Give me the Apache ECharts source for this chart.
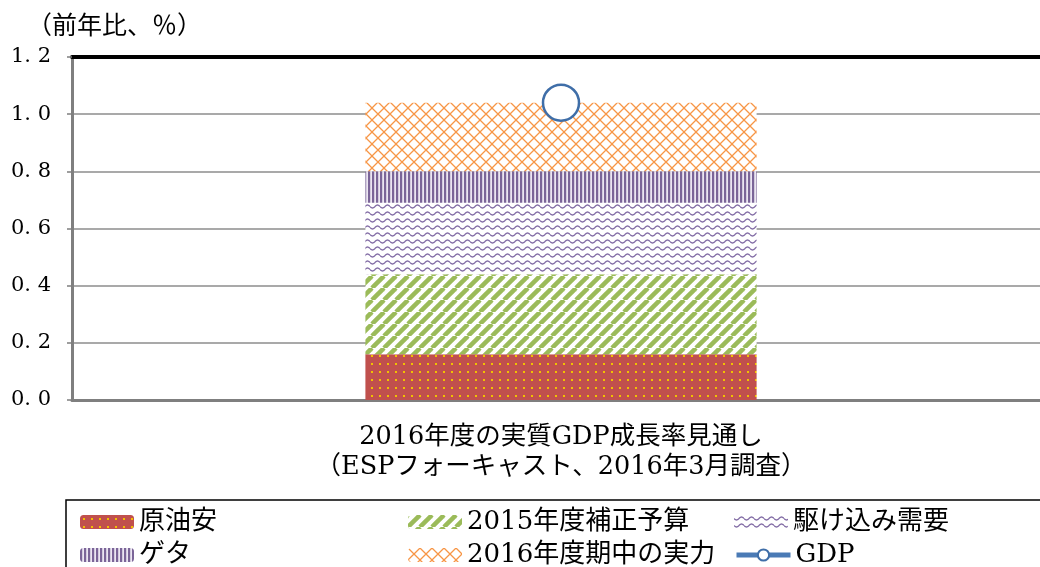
<!DOCTYPE html>
<html><head><meta charset="utf-8">
<script src="https://cdn.jsdelivr.net/npm/echarts@6/dist/echarts.min.js"></script>
<style>html,body{margin:0;padding:0;background:#fff}#c{width:1040px;height:567px}</style>
</head><body><div id="c"></div>
<script>
const categories = ['2016年度の実質GDP成長率見通し\n（ESPフォーキャスト、2016年3月調査）'];
const seriesNames = ['原油安', '2015年度補正予算', '駆け込み需要', 'ゲタ', '2016年度期中の実力', 'GDP'];
const oilValues = [0.16];
const budgetValues = [0.28];
const rushValues = [0.25];
const getaValues = [0.11];
const underlyingValues = [0.24];
const gdpValues = [1.04];
const yMin = 0, yMax = 1.2, yStep = 0.2;

const FONT = "'DejaVu Serif', 'Noto Sans CJK JP', serif";

function tile(w, h, draw) {
  const c = document.createElement('canvas');
  c.width = w; c.height = h;
  draw(c.getContext('2d'), w, h);
  return { image: c, repeat: 'repeat' };
}
const pDots = tile(8, 8, (g, w, h) => {
  g.fillStyle = '#C0504D'; g.fillRect(0, 0, w, h);
  g.fillStyle = '#F2C200'; g.fillRect(3, 3, 2, 2);
});
const pStripes = tile(12, 12, (g, w, h) => {
  g.fillStyle = '#fff'; g.fillRect(0, 0, w, h);
  g.strokeStyle = '#9BBB59'; g.lineWidth = 4.5;
  for (const o of [-12, 0, 12]) { g.beginPath(); g.moveTo(o, 12); g.lineTo(o + 12, 0); g.stroke(); }
});
const pWaves = tile(10, 7, (g, w, h) => {
  g.fillStyle = '#fff'; g.fillRect(0, 0, w, h);
  g.strokeStyle = 'rgba(110,85,150,0.85)'; g.lineWidth = 1.3;
  g.beginPath();
  for (let x = 0; x <= 10; x += 0.5) { const y = 3.5 + 1.5 * Math.sin(2 * Math.PI * x / 10); x === 0 ? g.moveTo(x, y) : g.lineTo(x, y); }
  g.stroke();
});
const pVert = tile(4, 4, (g, w, h) => {
  g.fillStyle = '#ECE6F2'; g.fillRect(0, 0, w, h);
  g.fillStyle = '#7B6598'; g.fillRect(0, 0, 2.2, h);
});
const pCross = tile(12, 12, (g, w, h) => {
  g.fillStyle = '#fff'; g.fillRect(0, 0, w, h);
  g.strokeStyle = '#F79646'; g.lineWidth = 1.3;
  g.beginPath(); g.moveTo(0, 0); g.lineTo(12, 12); g.moveTo(0, 12); g.lineTo(12, 0); g.stroke();
});

const chart = echarts.init(document.getElementById('c'), null, { renderer: 'canvas' });
const legendBase = { itemWidth: 54, itemHeight: 14, itemGap: 6, textStyle: { fontFamily: FONT, fontSize: 26, color: '#000' }, selectedMode: false, padding: 0 };
const barSeries = (name, data, pat) => ({
  name, type: 'bar', stack: 's', data, barWidth: '40%',
  itemStyle: { color: pat }, emphasis: { disabled: true }
});
chart.setOption({
  animation: false,
  title: { text: '（前年比、％）', left: 22, top: 10, textStyle: { fontFamily: FONT, fontSize: 25, fontWeight: 'normal', color: '#000' } },
  grid: { left: 72, top: 57, width: 978, height: 343, containLabel: false, outerBoundsMode: 'none' },
  xAxis: [{
    type: 'category', data: categories,
    axisLine: { lineStyle: { color: '#7F7F7F', width: 3 } },
    axisTick: { show: false },
    axisLabel: { fontFamily: FONT, fontSize: 25.5, color: '#000', lineHeight: 30, margin: 22 }
  }, {
    type: 'category', data: categories, position: 'top',
    axisLine: { lineStyle: { color: '#000', width: 4 } },
    axisTick: { show: false }, axisLabel: { show: false }
  }],
  yAxis: {
    type: 'value', min: yMin, max: yMax, interval: yStep,
    axisLine: { show: true, lineStyle: { color: '#7F7F7F', width: 3 } },
    axisTick: { show: true, length: 5, lineStyle: { color: '#7F7F7F', width: 1.5 } },
    splitLine: { lineStyle: { color: '#8C8C8C', width: 1.5 } },
    axisLabel: { fontFamily: FONT, fontSize: 21, color: '#000', margin: 21,
      formatter: v => v.toFixed(1).replace('.', '. ') }
  },
  legend: [
    Object.assign({}, legendBase, { left: 80, top: 509, data: [seriesNames[0]] }),
    Object.assign({}, legendBase, { left: 408, top: 509, data: [seriesNames[1]] }),
    Object.assign({}, legendBase, { left: 734, top: 509, data: [seriesNames[2]] }),
    Object.assign({}, legendBase, { left: 80, top: 542, data: [seriesNames[3]] }),
    Object.assign({}, legendBase, { left: 408, top: 542, data: [seriesNames[4]] }),
    Object.assign({}, legendBase, { left: 734, top: 542, data: [{ name: seriesNames[5],
      lineStyle: { width: 5, color: '#4A7AB5' }, itemStyle: { color: '#fff', borderColor: '#3F6EA8', borderWidth: 2 } }] })
  ],
  graphic: [{ type: 'rect', shape: { x: 66, y: 500, width: 1000, height: 100 }, style: { fill: 'none', stroke: '#000', lineWidth: 1.5 }, silent: true, z: -1 }],
  series: [
    barSeries(seriesNames[0], oilValues, pDots),
    barSeries(seriesNames[1], budgetValues, pStripes),
    barSeries(seriesNames[2], rushValues, pWaves),
    barSeries(seriesNames[3], getaValues, pVert),
    barSeries(seriesNames[4], underlyingValues, pCross),
    { name: seriesNames[5], type: 'line', data: gdpValues, symbol: 'circle', symbolSize: 36,
      itemStyle: { color: '#fff', borderColor: '#3F6EA8', borderWidth: 2.5 },
      lineStyle: { color: '#4A7AB5', width: 5 }, z: 5, emphasis: { disabled: true } }
  ]
});
</script></body></html>
